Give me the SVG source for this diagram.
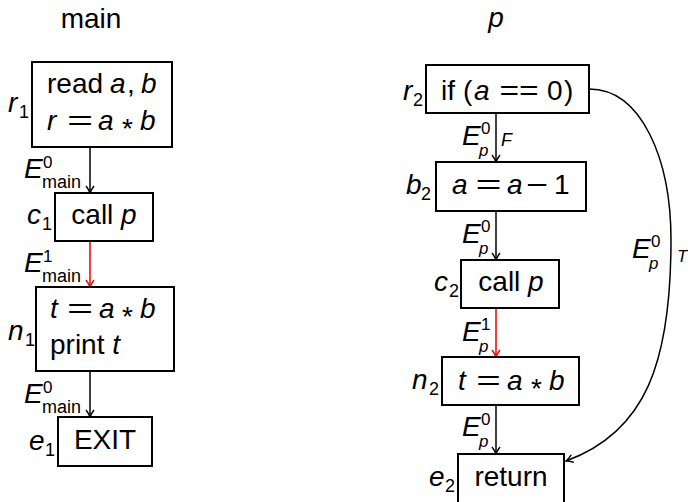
<svg xmlns="http://www.w3.org/2000/svg" width="688" height="502" viewBox="0 0 688 502">
<style>
text{font-family:"Liberation Sans",Arial,sans-serif;font-size:28px;fill:#000}
.i{font-style:italic}
.s{font-size:17px}
.m{font-size:18px}
.box{fill:#fff;stroke:#000;stroke-width:2}
.e{fill:none;stroke:#000;stroke-width:1.5}
.r{fill:none;stroke:#e00;stroke-width:1.5}
</style>
<defs>
<marker id="ab" markerUnits="userSpaceOnUse" markerWidth="14" markerHeight="14" viewBox="-10 -7 12 14" refX="0" refY="0" orient="auto">
<path d="M-7,-4 Q-3,-1 0,0 Q-3,1 -7,4" fill="none" stroke="#000" stroke-width="1.4"/>
</marker>
<marker id="ar" markerUnits="userSpaceOnUse" markerWidth="14" markerHeight="14" viewBox="-10 -7 12 14" refX="0" refY="0" orient="auto">
<path d="M-7,-4 Q-3,-1 0,0 Q-3,1 -7,4" fill="none" stroke="#e00" stroke-width="1.4"/>
</marker>
</defs>
<rect width="688" height="502" fill="#fff"/>
<g id="titles">
<text x="91" y="28" text-anchor="middle">main</text>
<text x="496" y="27" text-anchor="middle" class="i">p</text>
</g>
<g id="connectors">
<line class="e" x1="90" y1="147" x2="90" y2="193" marker-end="url(#ab)"/>
<line class="r" x1="90" y1="241" x2="90" y2="287" marker-end="url(#ar)"/>
<line class="e" x1="90" y1="371" x2="90" y2="417" marker-end="url(#ab)"/>
<line class="e" x1="496" y1="113" x2="496" y2="162" marker-end="url(#ab)"/>
<line class="e" x1="496" y1="211" x2="496" y2="260" marker-end="url(#ab)"/>
<line class="r" x1="496" y1="308" x2="496" y2="357" marker-end="url(#ar)"/>
<line class="e" x1="496" y1="405" x2="496" y2="454" marker-end="url(#ab)"/>
<path class="e" d="M589,89 C642,89 671,160 671,240 C671,362 646,432 566,461" marker-end="url(#ab)"/>
<text x="24" y="178" class="i">E</text><text x="43" y="168" class="s">0</text><text x="42" y="188" class="m">main</text>
<text x="24" y="272" class="i">E</text><text x="43" y="262" class="s">1</text><text x="42" y="282" class="m">main</text>
<text x="24" y="403" class="i">E</text><text x="43" y="393" class="s">0</text><text x="42" y="413" class="m">main</text>
<text x="462" y="145" class="i">E</text><text x="481" y="134" class="s">0</text><text x="479" y="156" class="s i">p</text><text x="501" y="146" class="m i">F</text>
<text x="462" y="243" class="i">E</text><text x="481" y="232" class="s">0</text><text x="479" y="254" class="s i">p</text>
<text x="462" y="341" class="i">E</text><text x="481" y="330" class="s">1</text><text x="479" y="352" class="s i">p</text>
<text x="462" y="436" class="i">E</text><text x="481" y="425" class="s">0</text><text x="479" y="447" class="s i">p</text>
<text x="632" y="258" class="i">E</text><text x="651" y="247" class="s">0</text><text x="649" y="269" class="s i">p</text><text x="677" y="262" class="s i">T</text>
</g>
<g id="r1">
<rect class="box" x="32" y="62" width="140" height="85"/>
<text y="93"><tspan x="47">read</tspan><tspan x="110" class="i">a</tspan><tspan x="127">,</tspan><tspan x="141" class="i">b</tspan></text>
<text y="130"><tspan x="47" class="i">r</tspan><tspan x="98" class="i">a</tspan><tspan x="122" dy="8">*</tspan><tspan x="140" dy="-8" class="i">b</tspan></text>
<text transform="translate(80,130) scale(1.6,1)" text-anchor="middle">=</text>
<text x="8" y="112" class="i">r</text><text x="19" y="118" class="m">1</text>
</g>
<g id="c1">
<rect class="box" x="55" y="193" width="98" height="48"/>
<text x="104" y="224" text-anchor="middle">call <tspan class="i">p</tspan></text>
<text x="27" y="224" class="i">c</text><text x="42" y="230" class="m">1</text>
</g>
<g id="n1">
<rect class="box" x="36" y="287" width="138" height="84"/>
<text y="318"><tspan x="50" class="i">t</tspan><tspan x="99" class="i">a</tspan><tspan x="122" dy="8">*</tspan><tspan x="140" dy="-8" class="i">b</tspan></text>
<text transform="translate(80,318) scale(1.6,1)" text-anchor="middle">=</text>
<text x="50" y="354">print <tspan class="i">t</tspan></text>
<text x="8" y="340" class="i">n</text><text x="25" y="346" class="m">1</text>
</g>
<g id="e1">
<rect class="box" x="58" y="417" width="94" height="49"/>
<text x="105" y="449" text-anchor="middle">EXIT</text>
<text x="29" y="450" class="i">e</text><text x="45" y="456" class="m">1</text>
</g>
<g id="r2">
<rect class="box" x="426" y="65" width="163" height="48"/>
<text y="100"><tspan x="441">if</tspan><tspan x="463">(</tspan><tspan x="474" class="i">a</tspan><tspan x="547">0</tspan><tspan x="564">)</tspan></text>
<text transform="translate(519,100) scale(1.2,1)" text-anchor="middle">==</text>
<text x="403" y="100" class="i">r</text><text x="413" y="106" class="m">2</text>
</g>
<g id="b2">
<rect class="box" x="436" y="162" width="150" height="49"/>
<text y="194"><tspan x="452" class="i">a</tspan><tspan x="507" class="i">a</tspan><tspan x="554">1</tspan></text>
<text transform="translate(488.5,194) scale(1.6,1)" text-anchor="middle">=</text>
<text transform="translate(537,194) scale(1.35,1)" text-anchor="middle">−</text>
<text x="406" y="194" class="i">b</text><text x="421" y="200" class="m">2</text>
</g>
<g id="c2">
<rect class="box" x="461" y="260" width="98" height="48"/>
<text x="511" y="291" text-anchor="middle">call <tspan class="i">p</tspan></text>
<text x="434" y="291" class="i">c</text><text x="449" y="297" class="m">2</text>
</g>
<g id="n2">
<rect class="box" x="442" y="357" width="137" height="48"/>
<text y="390"><tspan x="458" class="i">t</tspan><tspan x="507" class="i">a</tspan><tspan x="531" dy="8">*</tspan><tspan x="549" dy="-8" class="i">b</tspan></text>
<text transform="translate(488.5,390) scale(1.5,1)" text-anchor="middle">=</text>
<text x="412" y="389" class="i">n</text><text x="429" y="395" class="m">2</text>
</g>
<g id="e2">
<rect class="box" x="458" y="454" width="106" height="52"/>
<text x="511" y="486" text-anchor="middle">return</text>
<text x="429" y="486" class="i">e</text><text x="445" y="492" class="m">2</text>
</g>
</svg>
